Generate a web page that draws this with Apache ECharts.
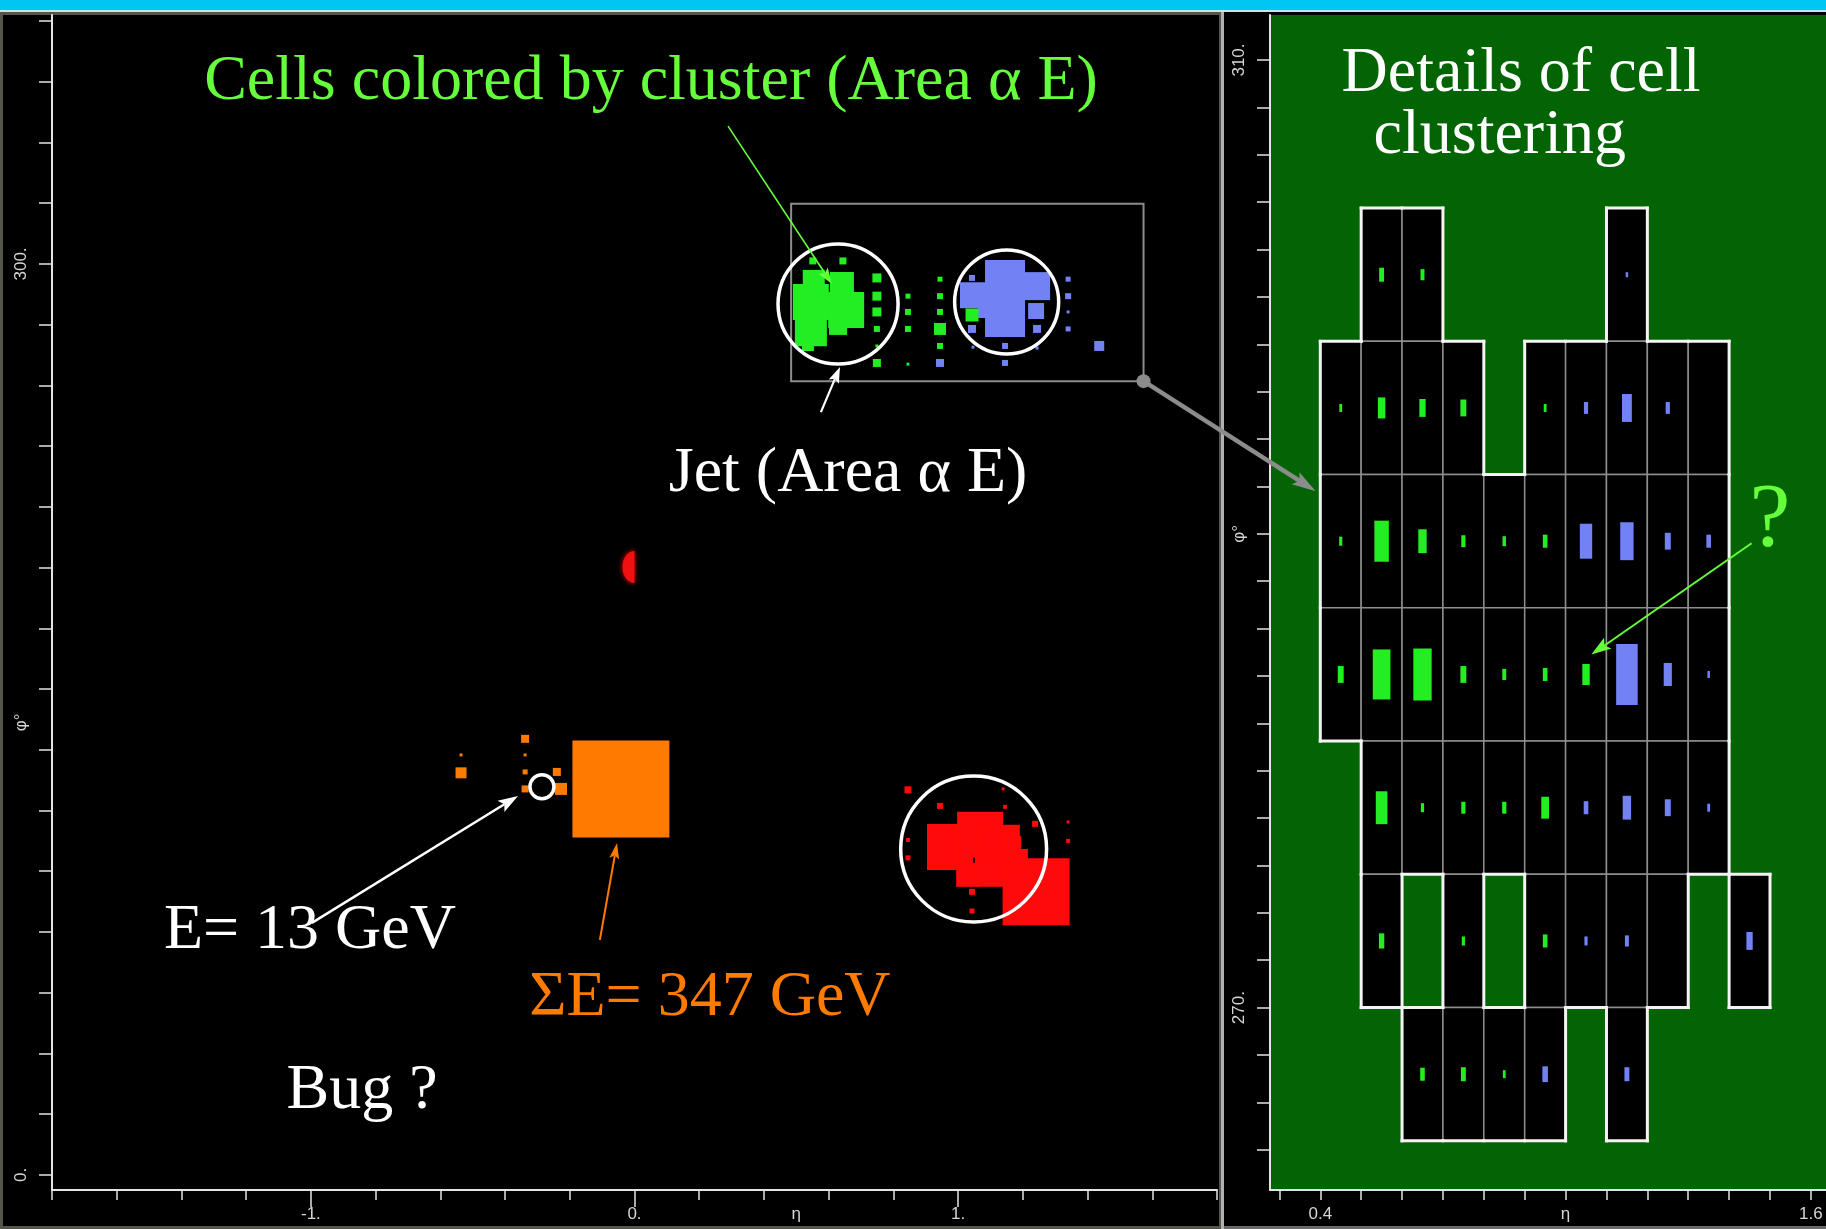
<!DOCTYPE html>
<html><head><meta charset="utf-8">
<script src="https://cdn.jsdelivr.net/npm/echarts@6/dist/echarts.min.js"></script>
<style>html,body{margin:0;padding:0;background:#000;overflow:hidden}#c{width:1826px;height:1229px}</style>
</head><body><div id="c"></div>
<script>
// ================= DATA =================
// Left panel (eta, phi in degrees, E in arbitrary energy units; square area ∝ E)
const greenCells = [
  [0.545, 287.5, 51.8], [0.545, 278.2, 41], [0.554, 294.4, 19.4], [0.536, 273.3, 5.76],
  [0.641, 293.4, 23], [0.654, 284.8, 51.8], [0.629, 279.6, 13], [0.597, 286.0, 16],
  [0.551, 301.0, 1.96], [0.644, 301.0, 1.96],
  [0.749, 295.4, 3.24], [0.749, 289.4, 3.24], [0.749, 284.2, 3.24], [0.749, 278.6, 1.44], [0.749, 273.0, 0.36], [0.749, 267.4, 2.56],
  [0.845, 289.4, 1.0], [0.845, 284.2, 1.44], [0.845, 278.6, 1.44], [0.845, 267.0, 0.36],
  [0.944, 295.0, 1.0], [0.944, 289.4, 1.44], [0.944, 284.2, 1.44], [0.944, 278.6, 5.76], [0.944, 273.0, 1.44],
  [1.043, 283.2, 6.76]
];
const blueCells = [
  [1.046, 289.7, 27], [1.145, 294.7, 64], [1.145, 282.5, 64], [1.241, 292.7, 31.4], [1.241, 284.5, 10.2], [1.083, 284.5, 7.84],
  [1.043, 295.4, 1.44], [1.043, 278.6, 2.56], [1.145, 273.0, 1.44], [1.145, 267.4, 1.44],
  [1.244, 278.6, 2.56], [1.244, 272.3, 0.36],
  [1.340, 295.0, 1.0], [1.340, 289.4, 1.44], [1.340, 284.2, 0.36], [1.340, 278.6, 1.0],
  [1.436, 273.0, 4], [0.944, 267.4, 2.56], [1.046, 272.6, 0.36]
];
const redCells = [
  [0.975, 108.0, 84.6], [1.068, 112.0, 84.6], [1.129, 108.7, 64], [1.031, 98.8, 23], [1.098, 99.8, 36],
  [1.241, 93.2, 179.6], [1.167, 108.6, 13], [1.191, 104.7, 10.2],
  [0.845, 126.8, 1.96], [0.944, 121.5, 1.44], [1.139, 127.1, 0.36], [1.145, 121.2, 0.64], [1.238, 115.6, 1.44],
  [1.340, 116.2, 0.36], [1.340, 110.0, 0.64], [0.845, 110.3, 0.64], [0.845, 104.4, 1.0],
  [1.043, 93.2, 1.44], [1.043, 86.9, 1.0]
];
const orangeCells = [
  [-0.042, 127.1, 376], [-0.338, 143.6, 2.56], [-0.536, 138.3, 0.36], [-0.536, 132.4, 4.84],
  [-0.338, 138.3, 0.36], [-0.338, 132.7, 1.0], [-0.338, 127.1, 1.96], [-0.240, 132.7, 2.56], [-0.227, 127.1, 5.76]
];
// Jets: eta, phi, E (GeV) ; circle area ∝ E
const jets = [[0.629, 286.8, 325], [1.150, 287.5, 244], [1.048, 107.3, 480], [-0.286, 127.8, 13]];
// clipped red deposit at eta≈0
const clippedDeposit = [[0.0, 200.2, 23]];
// zoom selection box (eta range, phi range)
const selectionEta = [0.484, 1.573];
const selectionPhi = [261.4, 319.8];

// Right panel: calorimeter cells [etaBin, phiBin, E, cluster(0 none,1 green,2 blue)]
const ETA0 = 0.4, DETA = 0.1, PHI0 = 264.375, DPHI = 5.625;
const rightCells = [
  [1,6,11,1],[2,6,7,1],[7,6,1.4,2],
  [0,5,3.6,1],[1,5,25,1],[2,5,18,1],[3,5,16,1],[5,5,3.6,1],[6,5,8,2],[7,5,44,2],[8,5,8,2],[9,5,0,0],
  [0,4,4.6,1],[1,4,95,1],[2,4,32,1],[3,4,8,1],[4,4,5.6,1],[5,4,9.6,1],[6,4,69,2],[7,4,81,2],[8,4,16,2],[9,4,9.6,2],
  [0,3,16,1],[1,3,141,1],[2,3,152,1],[3,3,16,1],[4,3,7,1],[5,3,9.6,1],[6,3,25,1],[7,3,210,2],[8,3,30,2],[9,3,2.8,2],
  [1,2,61,1],[2,2,4.6,1],[3,2,8,1],[4,2,8,1],[5,2,27,1],[6,2,9.6,2],[7,2,32,2],[8,2,16,2],[9,2,3.6,2],
  [1,1,13,1],[3,1,4.6,1],[5,1,9.6,1],[6,1,4.6,2],[7,1,7,2],[8,1,0,0],[10,1,18,2],
  [2,0,9.6,1],[3,0,11,1],[4,0,3.6,1],[5,0,14,2],[7,0,11,2]
];

// Axis ticks / labels
const leftXRange = [-1.8, 1.8];
const leftYRange = [-5, 382];
const leftXLabelValues = [-1, 0, 0.5, 1];
const leftXLabelTexts = ['-1.', '0.', 'η', '1.'];
const leftXMajorTicks = [-1, 0, 1];
const leftYLabelValues = [0, 149, 300];
const leftYLabelTexts = ['0.', 'φ°', '300.'];
const rightXRange = [0.277, 1.637];
const rightYRange = [262.3, 311.9];
const rightXLabelValues = [0.4, 1.0, 1.6];
const rightXLabelTexts = ['0.4', 'η', '1.6'];
const rightYLabelValues = [270, 290, 310];
const rightYLabelTexts = ['270.', 'φ°', '310.'];
function steps(a, b, s) { const r = []; for (let k = 0; a + k * s <= b + 1e-9; k++) r.push(+(a + k * s).toFixed(4)); return r; }
const leftXTicks = steps(-1.8, 1.8, 0.2);
const leftYTicks = steps(0, 380, 20);
const rightXTicks = steps(0.3, 1.6, 0.1);
const rightYTicks = steps(264, 310, 2);

// ================= STYLE =================
const C_GREEN = '#22ee22', C_BLUE = '#7282f4', C_RED = '#ff0a0a', C_ORANGE = '#ff7a00';
const C_TEXTGREEN = '#66ff3c';
const AREA_K = 5, JET_K = 3.33;
const AX = '#e4e4e4';
const SERIF = '"Liberation Serif", "Times New Roman", serif';

const chart = echarts.init(document.getElementById('c'), null, { width: 1826, height: 1229 });

function lookup(vals, texts) {
  return function (v) { for (let k = 0; k < vals.length; k++) if (Math.abs(vals[k] - v) < 1e-6) return texts[k]; return ''; };
}
function mkX(grid, range, ticks, lv, lt) {
  return { gridIndex: grid, type: 'value', min: range[0], max: range[1], position: 'bottom',
    axisLine: { show: true, onZero: false, lineStyle: { color: AX, width: 2 } },
    axisTick: { show: true, length: 10, customValues: ticks, lineStyle: { color: AX, width: 1.5 } },
    axisLabel: { show: true, customValues: lv, formatter: lookup(lv, lt), color: '#d6d6d6', fontSize: 17, fontFamily: 'Liberation Sans', margin: 16 },
    splitLine: { show: false } };
}
function mkY(grid, range, ticks, lv, lt) {
  return { gridIndex: grid, type: 'value', min: range[0], max: range[1], position: 'left',
    axisLine: { show: true, onZero: false, lineStyle: { color: AX, width: 2 } },
    axisTick: { show: true, length: 13, customValues: ticks, lineStyle: { color: AX, width: 1.5 } },
    axisLabel: { show: true, customValues: lv, formatter: lookup(lv, lt), rotate: 90, color: '#d6d6d6', fontSize: 17, fontFamily: 'Liberation Sans', margin: 22 },
    splitLine: { show: false } };
}
function squares(color) {
  return function (p, api) {
    const c = api.coord([api.value(0), api.value(1)]);
    const s = Math.max(2, AREA_K * Math.sqrt(api.value(2)));
    return { type: 'rect', shape: { x: c[0] - s / 2, y: c[1] - s / 2, width: s, height: s }, style: { fill: color } };
  };
}
function cellSeries(name, data, color) {
  return { name, type: 'custom', coordinateSystem: 'cartesian2d', xAxisIndex: 0, yAxisIndex: 0, silent: true, clip: true,
    data, renderItem: squares(color) };
}
const present = new Set(rightCells.map(c => c[0] + ',' + c[1]));
function cellBox(api, i, j) {
  const p0 = api.coord([ETA0 + DETA * i, PHI0 + DPHI * j]);
  const p1 = api.coord([ETA0 + DETA * (i + 1), PHI0 + DPHI * (j + 1)]);
  return { x: p0[0], y: p1[1], w: p1[0] - p0[0], h: p0[1] - p1[1] };
}

const majorX = { gridIndex: 0, type: 'value', min: leftXRange[0], max: leftXRange[1], position: 'bottom',
  axisLine: { show: false, onZero: false }, axisLabel: { show: false }, splitLine: { show: false },
  axisTick: { show: true, length: 17, customValues: leftXMajorTicks, lineStyle: { color: AX, width: 1.5 } } };

const option = {
  backgroundColor: '#000',
  animation: false,
  grid: [
    { left: 52, top: 15, width: 1165, height: 1175, show: true, backgroundColor: '#000', borderWidth: 0 },
    { left: 1270, top: 15, width: 556, height: 1175, show: true, backgroundColor: '#036403', borderWidth: 0 }
  ],
  xAxis: [mkX(0, leftXRange, leftXTicks, leftXLabelValues, leftXLabelTexts),
          mkX(1, rightXRange, rightXTicks, rightXLabelValues, rightXLabelTexts),
          majorX],
  yAxis: [mkY(0, leftYRange, leftYTicks, leftYLabelValues, leftYLabelTexts),
          mkY(1, rightYRange, rightYTicks, rightYLabelValues, rightYLabelTexts)],
  series: [
    { type: 'custom', coordinateSystem: 'cartesian2d', xAxisIndex: 0, yAxisIndex: 0, silent: true,
      data: [[selectionEta[0], selectionPhi[0], selectionEta[1], selectionPhi[1]]],
      renderItem: function (p, api) {
        const a = api.coord([api.value(0), api.value(3)]), b = api.coord([api.value(2), api.value(1)]);
        return { type: 'rect', shape: { x: a[0], y: a[1], width: b[0] - a[0], height: b[1] - a[1] }, style: { fill: 'none', stroke: '#8c8c8c', lineWidth: 2 } };
      } },
    cellSeries('orange', orangeCells, C_ORANGE),
    cellSeries('red', redCells, C_RED),
    cellSeries('blue', blueCells, C_BLUE),
    cellSeries('green', greenCells, C_GREEN),
    { type: 'custom', coordinateSystem: 'cartesian2d', xAxisIndex: 0, yAxisIndex: 0, silent: true, data: clippedDeposit,
      renderItem: function (p, api) {
        const c = api.coord([api.value(0), api.value(1)]);
        const ry = JET_K * Math.sqrt(api.value(2)), rx = 0.75 * ry;
        const pts = [];
        for (let k = 0; k <= 24; k++) { const t = -Math.PI / 2 + Math.PI * k / 24; pts.push([c[0] - rx * Math.cos(t), c[1] + ry * Math.sin(t)]); }
        return { type: 'polygon', shape: { points: pts }, style: { fill: '#f01010', shadowBlur: 5, shadowColor: '#ff0000' } };
      } },
    { type: 'custom', coordinateSystem: 'cartesian2d', xAxisIndex: 0, yAxisIndex: 0, silent: true, data: jets,
      renderItem: function (p, api) {
        const c = api.coord([api.value(0), api.value(1)]);
        return { type: 'circle', shape: { cx: c[0], cy: c[1], r: JET_K * Math.sqrt(api.value(2)) }, style: { fill: 'none', stroke: '#ffffff', lineWidth: 3.5 } };
      } },
    // right panel cells
    { type: 'custom', coordinateSystem: 'cartesian2d', xAxisIndex: 1, yAxisIndex: 1, silent: true, data: rightCells,
      renderItem: function (p, api) {
        const b = cellBox(api, api.value(0), api.value(1));
        return { type: 'rect', shape: { x: b.x, y: b.y, width: b.w, height: b.h }, style: { fill: '#000', stroke: '#8e8e8e', lineWidth: 1.5 } };
      } },
    { type: 'custom', coordinateSystem: 'cartesian2d', xAxisIndex: 1, yAxisIndex: 1, silent: true, data: rightCells,
      renderItem: function (p, api) {
        const i = api.value(0), j = api.value(1);
        const b = cellBox(api, i, j);
        const st = { stroke: '#f4f4f4', lineWidth: 3, lineCap: 'square' };
        const ch = [];
        if (!present.has((i - 1) + ',' + j)) ch.push({ type: 'line', shape: { x1: b.x, y1: b.y, x2: b.x, y2: b.y + b.h }, style: st });
        if (!present.has((i + 1) + ',' + j)) ch.push({ type: 'line', shape: { x1: b.x + b.w, y1: b.y, x2: b.x + b.w, y2: b.y + b.h }, style: st });
        if (!present.has(i + ',' + (j + 1))) ch.push({ type: 'line', shape: { x1: b.x, y1: b.y, x2: b.x + b.w, y2: b.y }, style: st });
        if (!present.has(i + ',' + (j - 1))) ch.push({ type: 'line', shape: { x1: b.x, y1: b.y + b.h, x2: b.x + b.w, y2: b.y + b.h }, style: st });
        return { type: 'group', children: ch };
      } },
    { type: 'custom', coordinateSystem: 'cartesian2d', xAxisIndex: 1, yAxisIndex: 1, silent: true, data: rightCells,
      renderItem: function (p, api) {
        const e = api.value(2), cl = api.value(3);
        if (!e || !cl) return null;
        const b = cellBox(api, api.value(0), api.value(1));
        const f = Math.sqrt(e / 1000);
        const w = Math.max(2.5, f * b.w * 1.15), h = Math.max(4, f * b.h);
        return { type: 'rect', shape: { x: b.x + b.w / 2 - w / 2, y: b.y + b.h / 2 - h / 2, width: w, height: h },
          style: { fill: cl === 1 ? C_GREEN : C_BLUE } };
      } }
  ]
};
chart.setOption(option);

// ================= ANNOTATIONS =================
const leftTexts = [
  { t: 'Cells colored by cluster (Area α E)', at: [0.051, 359.9], color: C_TEXTGREEN, size: 64 },
  { t: 'Jet (Area α E)', at: [0.660, 230.8], color: '#ffffff', size: 64 },
  { t: 'E= 13 GeV', at: [-1.003, 80.3], color: '#ffffff', size: 64 },
  { t: 'ΣE= 347 GeV', at: [0.233, 58.3], color: C_ORANGE, size: 64 },
  { t: 'Bug ?', at: [-0.842, 27.7], color: '#ffffff', size: 64 }
];
const rightTexts = [
  { t: 'Details of cell', at: [0.891, 309.4], color: '#ffffff', size: 64 },
  { t: 'clustering', at: [0.839, 306.8], color: '#ffffff', size: 64 },
  { t: '?', at: [1.500, 290.5], color: C_TEXTGREEN, size: 92 }
];
const leftArrows = [
  { from: [0.289, 345.4], to: [0.610, 293.4], color: C_TEXTGREEN, lw: 1.6, hl: 16, hw: 11 },
  { from: [0.576, 251.2], to: [0.635, 266.1], color: '#ffffff', lw: 2.2, hl: 16, hw: 11 },
  { from: [-0.997, 83.0], to: [-0.360, 124.8], color: '#ffffff', lw: 2.5, hl: 20, hw: 13 },
  { from: [-0.107, 77.4], to: [-0.054, 109.3], color: C_ORANGE, lw: 2, hl: 16, hw: 10 }
];
const rightArrows = [
  { from: [1.455, 289.6], to: [1.063, 284.9], color: C_TEXTGREEN, lw: 2, hl: 20, hw: 13 }
];
const linkStart = [1.573, 261.4];   // left panel
const linkEnd = [0.389, 291.8];     // right panel

function px(g, v) { return chart.convertToPixel({ gridIndex: g }, v); }
function arrow(p, q, color, lw, hl, hw) {
  const dx = q[0] - p[0], dy = q[1] - p[1], L = Math.hypot(dx, dy), ux = dx / L, uy = dy / L;
  const bx = q[0] - ux * hl * 0.8, by = q[1] - uy * hl * 0.8;
  const cx = q[0] - ux * hl, cy = q[1] - uy * hl;
  return [
    { type: 'line', z: 100, shape: { x1: p[0], y1: p[1], x2: bx, y2: by }, style: { stroke: color, lineWidth: lw } },
    { type: 'polygon', z: 100, shape: { points: [[q[0], q[1]], [cx - uy * hw / 2, cy + ux * hw / 2], [bx, by], [cx + uy * hw / 2, cy - ux * hw / 2]] }, style: { fill: color } }
  ];
}
function txt(g, o) {
  const p = px(g, o.at);
  return { type: 'text', z: 100, x: p[0], y: p[1], style: { text: o.t, fill: o.color, font: o.size + 'px ' + SERIF, align: 'center', verticalAlign: 'middle' } };
}

const g = [];
// page chrome
g.push({ type: 'rect', z: -10, shape: { x: 0, y: 0, width: 1826, height: 10 }, style: { fill: '#00c6f3' } });
g.push({ type: 'rect', z: -10, shape: { x: 0, y: 10, width: 1826, height: 2 }, style: { fill: '#c4e6ee' } });
g.push({ type: 'rect', z: -10, shape: { x: 1.5, y: 13.5, width: 1219, height: 1214 }, style: { fill: 'none', stroke: '#55554c', lineWidth: 3 } });
g.push({ type: 'rect', z: -10, shape: { x: 1221, y: 12, width: 3, height: 1217 }, style: { fill: '#b0b0b0' } });
g.push({ type: 'rect', z: -10, shape: { x: 1224, y: 1226, width: 602, height: 3 }, style: { fill: '#6a6a6a' } });

leftTexts.forEach(o => g.push(txt(0, o)));
rightTexts.forEach(o => g.push(txt(1, o)));
leftArrows.forEach(a => g.push(...arrow(px(0, a.from), px(0, a.to), a.color, a.lw, a.hl, a.hw)));
rightArrows.forEach(a => g.push(...arrow(px(1, a.from), px(1, a.to), a.color, a.lw, a.hl, a.hw)));
const ls = px(0, linkStart), le = px(1, linkEnd);
g.push({ type: 'circle', z: 100, shape: { cx: ls[0], cy: ls[1], r: 7 }, style: { fill: '#8c8c8c' } });
g.push(...arrow(ls, le, '#8c8c8c', 4.5, 24, 14));

chart.setOption({ graphic: g });
</script>
</body></html>
